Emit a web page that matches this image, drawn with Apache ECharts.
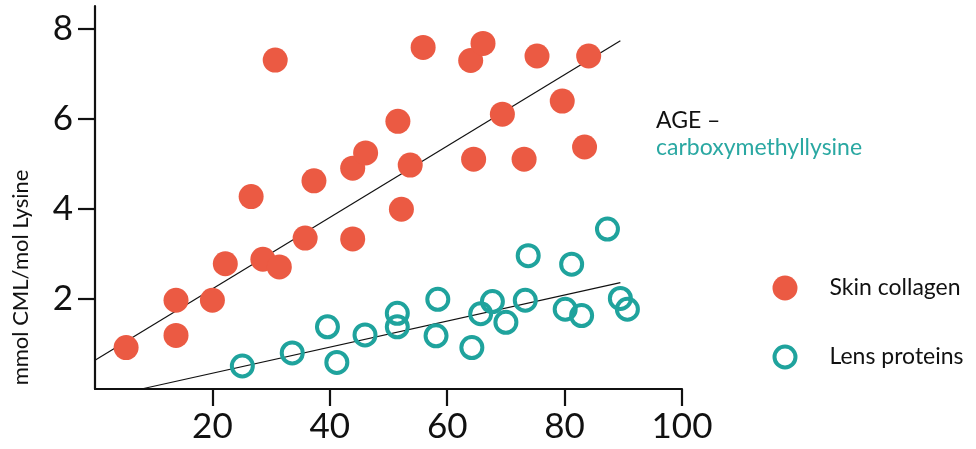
<!DOCTYPE html>
<html><head><meta charset="utf-8">
<script src="https://cdn.jsdelivr.net/npm/echarts@6/dist/echarts.min.js"></script>
<style>html,body{margin:0;padding:0;background:#fff}#c{width:976px;height:449px}</style>
</head><body><div id="c"></div>
<script>
// Skin collagen: [age, mmol CML/mol Lysine]
const skinAge = [5.3,13.8,13.8,20.0,22.2,26.6,28.6,31.4,30.7,35.8,37.3,43.9,43.9,46.1,51.6,52.2,53.7,55.9,64.0,66.1,64.5,69.4,75.3,73.1,79.6,84.1,83.4];
const skinCML = [0.92,1.97,1.19,1.97,2.78,4.27,2.88,2.71,7.30,3.35,4.62,3.33,4.90,5.24,5.94,3.99,4.97,7.58,7.29,7.67,5.10,6.10,7.39,5.10,6.39,7.39,5.37];
// Lens proteins
const lensAge = [25.1,33.6,39.6,41.2,46.0,51.5,51.5,58.4,58.1,64.2,65.7,67.7,70.0,73.3,73.8,80.1,81.2,82.9,87.3,89.5,90.7];
const lensCML = [0.51,0.80,1.38,0.59,1.20,1.68,1.38,1.99,1.18,0.92,1.67,1.94,1.48,1.97,2.96,1.77,2.77,1.63,3.55,2.01,1.77];
// Trend lines (endpoints)
const skinFitX = [0, 89.5], skinFitY = [0.64, 7.73];
const lensFitX = [7.9, 89.5], lensFitY = [0, 2.36];
const xTicks = [20,40,60,80,100];
const yTicks = [2,4,6,8];
const seriesNames = ['Skin collagen','Lens proteins'];
const titleLine1 = 'AGE –', titleLine2 = 'carboxymethyllysine';
const yAxisTitle = 'mmol CML/mol Lysine';

const RED = '#eb5a43', TEAL = '#1fa39d';
const RING = 'path://M0,12.5A12.5,12.5 0 1,1 25,12.5A12.5,12.5 0 1,1 0,12.5ZM4,12.5A8.5,8.5 0 1,0 21,12.5A8.5,8.5 0 1,0 4,12.5Z';
const zip = (a,b) => a.map((v,i)=>[v,b[i]]);
const chart = echarts.init(document.getElementById('c'), null, {renderer:'canvas'});
const axisCommon = {
  axisLine:{show:true,onZero:false,lineStyle:{color:'#111',width:2.2}},
  axisTick:{show:true,length:17,lineStyle:{color:'#111',width:2.2}},
  splitLine:{show:false},
};
chart.setOption({
  animation:false,
  textStyle:{fontFamily:'Lato'},
  grid:{left:95,right:294,top:6,bottom:60,containLabel:false},
  xAxis:Object.assign({type:'value',min:0,max:100,interval:20,
    axisLabel:{customValues:xTicks,margin:20,fontSize:35,color:'#111',fontFamily:'Lato'}},
    axisCommon,{axisTick:Object.assign({},axisCommon.axisTick,{customValues:xTicks})}),
  yAxis:Object.assign({type:'value',min:0,max:8.5,interval:2,
    axisLabel:{customValues:yTicks,margin:22,fontSize:35,color:'#111',fontFamily:'Lato'}},
    axisCommon,{axisTick:Object.assign({},axisCommon.axisTick,{customValues:yTicks})}),
  legend:{
    orient:'vertical',left:772.5,top:275.5,padding:0,itemWidth:25,itemHeight:25,itemGap:44,
    textStyle:{fontSize:23,color:'#111',fontFamily:'Lato',padding:[0,0,0,27]},
    data:[
      {name:seriesNames[0],icon:'circle',itemStyle:{color:RED,borderWidth:0}},
      {name:seriesNames[1],icon:RING,itemStyle:{color:TEAL,borderWidth:0}}
    ]
  },
  graphic:[
    {type:'text',left:656,top:109.5,style:{text:titleLine1,fontSize:23,fontFamily:'Lato',fill:'#111'}},
    {type:'text',left:656,top:136.5,style:{text:titleLine2,fontSize:23,fontFamily:'Lato',fill:'#2aa8a2'}},
    {type:'text',x:21,y:277.5,rotation:Math.PI/2,style:{text:yAxisTitle,fontSize:22,fontFamily:'Lato',fill:'#111',align:'center',verticalAlign:'middle'}}
  ],
  series:[
    {type:'line',data:zip(skinFitX,skinFitY),symbol:'none',silent:true,lineStyle:{color:'#111',width:1.2},z:1},
    {type:'line',data:zip(lensFitX,lensFitY),symbol:'none',silent:true,lineStyle:{color:'#111',width:1.2},z:1},
    {name:seriesNames[0],type:'scatter',data:zip(skinAge,skinCML),symbolSize:25,itemStyle:{color:RED,opacity:1},z:3},
    {name:seriesNames[1],type:'scatter',data:zip(lensAge,lensCML),symbolSize:21,itemStyle:{color:'transparent',borderColor:TEAL,borderWidth:4,opacity:1},z:3}
  ]
});
</script></body></html>
